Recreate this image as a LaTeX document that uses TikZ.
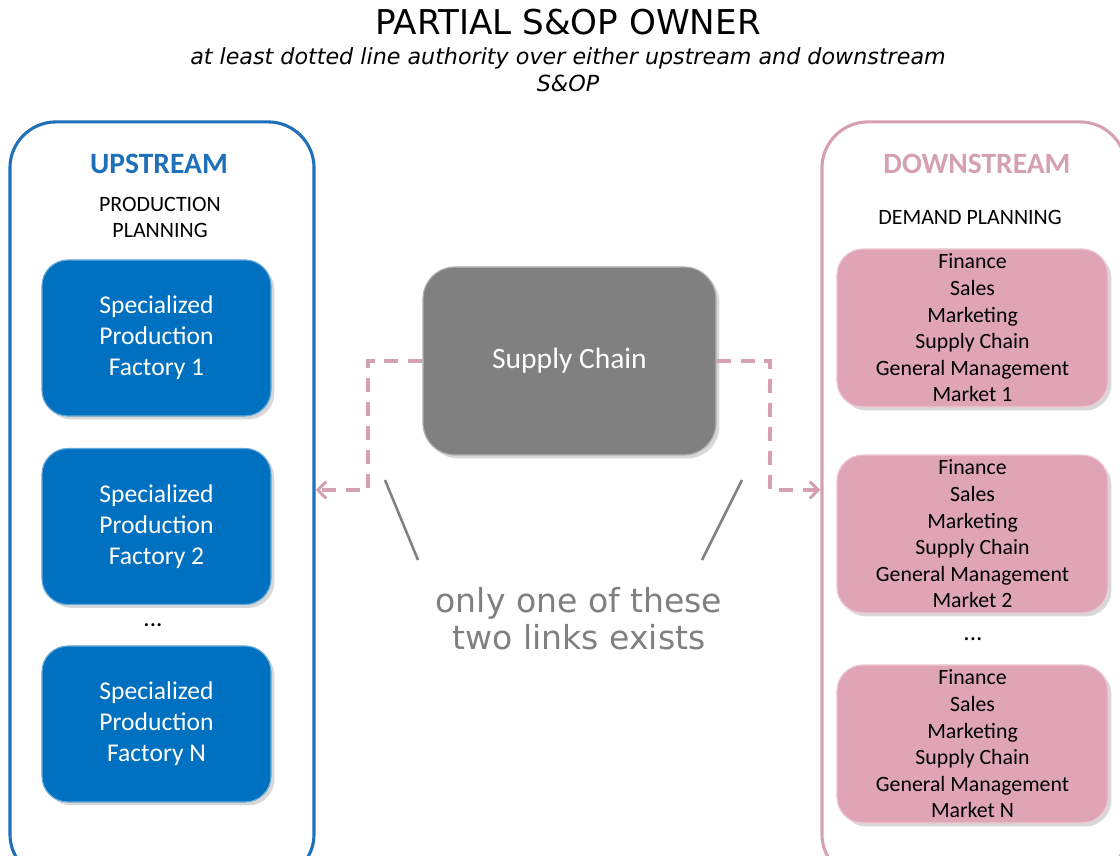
\documentclass[tikz,border=0pt]{standalone}
\usepackage{fontspec}
\setmainfont{Carlito}
\newfontfamily\verdfont{DejaVu Sans}
\usetikzlibrary{arrows.meta,shadows,positioning}
\definecolor{upblue}{RGB}{31,112,184}
\definecolor{factblue}{RGB}{0,112,192}
\definecolor{downpink}{RGB}{214,160,180}
\definecolor{mktpink}{RGB}{223,165,183}
\definecolor{scgray}{RGB}{128,128,128}
\definecolor{notegray}{RGB}{128,128,128}

\begin{document}
\begin{tikzpicture}[x=0.025cm,y=-0.025cm,
    frame/.style={draw,line width=2.2pt,rounded corners=1.15cm,minimum width=7.6cm,minimum height=18.95cm},
    factory/.style={fill=factblue,draw=factblue!60!white,line width=0.8pt,rounded corners=0.65cm,
        minimum width=5.725cm,minimum height=3.9cm,text=white,align=center,
        font=\fontsize{18.2}{22}\selectfont,drop shadow={opacity=0.3}},
    market/.style={fill=mktpink,draw=mktpink!60!white,line width=0.8pt,rounded corners=0.65cm,
        minimum width=6.775cm,minimum height=3.95cm,align=center,
        font=\fontsize{15.5}{18.9}\selectfont,drop shadow={opacity=0.3}},
    link/.style={draw=downpink,line width=2.2pt,dash pattern=on 10pt off 7pt,
        -{Straight Barb[length=6pt,width=12pt]}},
    pointer/.style={draw=scgray,line width=1.8pt},
    heading/.style={font=\fontsize{21}{24}\selectfont\bfseries},
    sub/.style={font=\fontsize{15.6}{18.5}\selectfont,align=center}]
    \clip (0,0) rectangle (1120,856);
    \fill[white] (0,0) rectangle (1120,856);
    % title
    \node (title) at (568,22) {\verdfont\fontsize{24.3}{28}\selectfont PARTIAL S\&OP OWNER};
    \node[align=center,font=\verdfont\fontsize{15.8}{19.5}\selectfont\itshape] (subtitle) at (568,70)
        {at least dotted line authority over either upstream and downstream\\S\&OP};
    % upstream
    \node[frame,draw=upblue] (up) at (162,501) {};
    \node[heading,text=upblue] (uphead) at (159,164) {UPSTREAM};
    \node[sub] (upsub) at (160,217) {PRODUCTION\\PLANNING};
    \node[factory] (f1) at (156.5,338) {Specialized\\Production\\Factory 1};
    \node[factory] (f2) at (156.5,526.5) {Specialized\\Production\\Factory 2};
    \node[factory] (fn) at (156.5,724) {Specialized\\Production\\Factory N};
    \node[font=\fontsize{18}{20}\selectfont] (fdots) at (153,625) {...};
    % downstream
    \node[frame,draw=downpink] (down) at (974,501) {};
    \node[heading,text=downpink] (downhead) at (977,164) {DOWNSTREAM};
    \node[sub] (downsub) at (970,217) {DEMAND PLANNING};
    \node[market] (m1) at (972.5,328) {Finance\\Sales\\Marketing\\Supply Chain\\General Management\\Market 1};
    \node[market] (m2) at (972.5,534) {Finance\\Sales\\Marketing\\Supply Chain\\General Management\\Market 2};
    \node[market] (mn) at (972.5,744) {Finance\\Sales\\Marketing\\Supply Chain\\General Management\\Market N};
    \node[font=\fontsize{18}{20}\selectfont] (mdots) at (973,639) {...};
    % supply chain and links
    \node[fill=scgray,draw=scgray!60!white,line width=0.8pt,rounded corners=0.8cm,
        minimum width=7.325cm,minimum height=4.7cm,text=white,
        font=\fontsize{21}{24}\selectfont,drop shadow={opacity=0.3}] (sc) at (569.5,361) {Supply Chain};
    \coordinate (lbend) at (368,490);
    \coordinate (rbend) at (770,490);
    \draw[link] (sc.west) -| (lbend) -- (lbend -| up.east);
    \draw[link] (sc.east) -| (rbend) -- (rbend -| down.west);
    \node[align=center,text=notegray,font=\verdfont\fontsize{23.5}{26.3}\selectfont] (note) at (579,619)
        {only one of these\\two links exists};
    \coordinate (ltip) at (385,480);
    \coordinate (rtip) at (742,480);
    \draw[pointer] (418,560) -- (ltip);
    \draw[pointer] (702,560) -- (rtip);
\end{tikzpicture}
\end{document}
